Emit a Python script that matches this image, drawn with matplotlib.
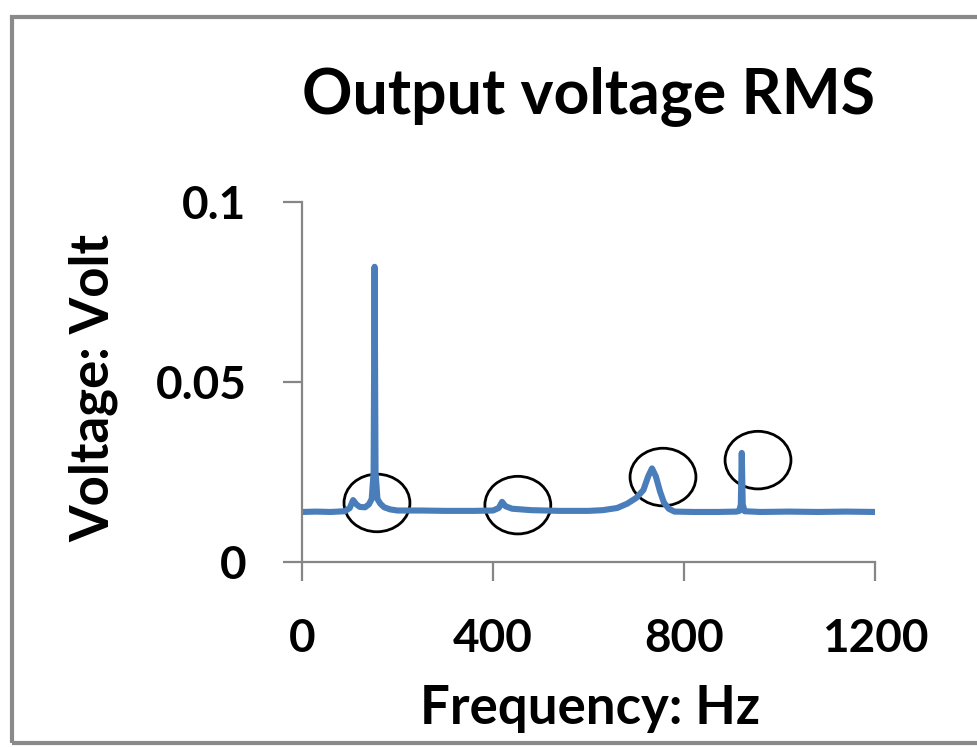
import matplotlib

matplotlib.use("Agg")

import matplotlib.pyplot as plt  # noqa: E402
from matplotlib.patches import Ellipse, Rectangle  # noqa: E402

# spectrum (Hz, V)
freq_hz = [0, 30, 60, 90, 100, 107, 114, 121, 132, 140, 146, 150, 152, 154,
           158, 164, 172, 185, 200, 250, 300, 360, 400, 412, 419, 426, 440,
           480, 540, 600, 630, 660, 681, 700, 715, 725, 733, 741, 750, 758,
           768, 780, 820, 870, 910, 916, 919, 921, 923, 927, 960, 1020, 1080,
           1140, 1200]
volt_rms = [0.0139, 0.0140, 0.0139, 0.0141, 0.0150, 0.0172, 0.0160, 0.0153,
            0.0152, 0.0160, 0.0175, 0.0250, 0.0820, 0.0250, 0.0175, 0.0162,
            0.0152, 0.0146, 0.0143, 0.0143, 0.0142, 0.0142, 0.0143, 0.0150,
            0.0167, 0.0155, 0.0148, 0.0144, 0.0142, 0.0142, 0.0144, 0.0150,
            0.0162, 0.0178, 0.0200, 0.0238, 0.0260, 0.0238, 0.0195, 0.0165,
            0.0148, 0.0140, 0.0139, 0.0139, 0.0140, 0.0142, 0.0160, 0.0303,
            0.0160, 0.0141, 0.0139, 0.0140, 0.0139, 0.0140, 0.0139]

# circled regions (centre Hz, centre V)
circle_hz = [157, 452, 756, 955]
circle_v = [0.0164, 0.0158, 0.0236, 0.0283]

x_ticks = [0, 400, 800, 1200]
y_ticks = [0, 0.05, 0.1]
y_tick_labels = ["0", "0.05", "0.1"]

FONT = ["Lato", "DejaVu Sans"]
BLUE = "#4a7ebb"
GREY = "#868686"

fig = plt.figure(figsize=(9.78, 7.47), dpi=100)
fig.patches.append(Rectangle((12 / 978, 4 / 747), 1.2, 726 / 747,
                             transform=fig.transFigure, fill=False,
                             edgecolor="#8a8a8a", linewidth=3))

ax = fig.add_axes([302 / 978, 1 - 562 / 747, 573 / 978, 360 / 747])
ax.plot(freq_hz, volt_rms, color=BLUE, linewidth=4.4, solid_joinstyle="round")

for cx, cy in zip(circle_hz, circle_v):
    ax.add_patch(Ellipse((cx, cy), 138, 0.0160, fill=False,
                         edgecolor="black", linewidth=2))

ax.set_xlim(0, 1200)
ax.set_ylim(0, 0.1)
ax.set_xticks(x_ticks)
ax.set_yticks(y_ticks)
ax.set_yticklabels(y_tick_labels)
for side in ("top", "right"):
    ax.spines[side].set_visible(False)
for side in ("left", "bottom"):
    ax.spines[side].set_color(GREY)
    ax.spines[side].set_linewidth(1.6)
ax.tick_params(length=14, width=1.6, color=GREY, pad=26, labelsize=33)
for lab in ax.get_xticklabels() + ax.get_yticklabels():
    lab.set_family(FONT)
    lab.set_fontweight("bold")

ax.set_title("Output voltage RMS", family=FONT, fontweight="bold",
             fontsize=45, y=1.247, pad=0)
ax.set_xlabel("Frequency: Hz", family=FONT, fontweight="bold", fontsize=38)
ax.set_ylabel("Voltage: Volt", family=FONT, fontweight="bold", fontsize=38)
ax.xaxis.set_label_coords(0.503, -0.34)
ax.yaxis.set_label_coords(-0.32, 0.483)

fig.savefig("out.png", dpi=100)
